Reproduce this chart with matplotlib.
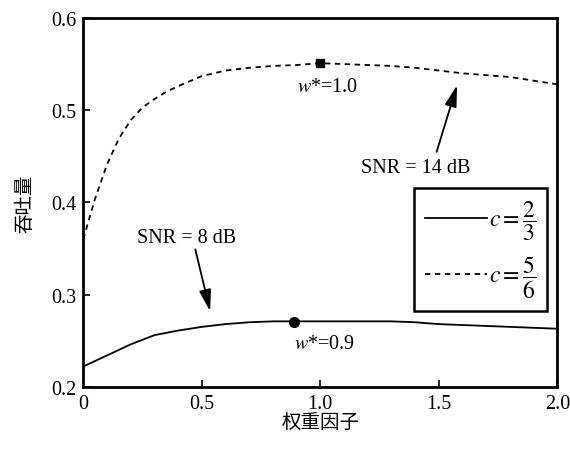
import matplotlib
matplotlib.use("Agg")
import matplotlib.pyplot as plt

plt.rcParams['font.family'] = ['Liberation Serif', 'Noto Sans CJK SC', 'DejaVu Sans']
plt.rcParams['mathtext.fontset'] = 'stix'
plt.rcParams['font.size'] = 14.5

# c = 5/6 (SNR = 14 dB)
w_hi = [0, 0.05, 0.1, 0.15, 0.2, 0.25, 0.3, 0.35, 0.4, 0.5, 0.6, 0.7, 0.8, 0.9, 1.0,
        1.1, 1.2, 1.3, 1.4, 1.5, 1.6, 1.7, 1.8, 1.9, 2.0]
thr_hi = [0.360, 0.404, 0.441, 0.469, 0.489, 0.503, 0.512, 0.520, 0.526, 0.537,
          0.543, 0.546, 0.548, 0.549, 0.551, 0.550, 0.549, 0.548, 0.546, 0.543,
          0.540, 0.538, 0.536, 0.532, 0.528]

# c = 2/3 (SNR = 8 dB)
w_lo = [0, 0.1, 0.2, 0.3, 0.4, 0.5, 0.6, 0.7, 0.8, 0.9, 1.0,
        1.1, 1.2, 1.3, 1.4, 1.5, 1.6, 1.7, 1.8, 1.9, 2.0]
thr_lo = [0.222, 0.234, 0.246, 0.256, 0.261, 0.265, 0.268, 0.270, 0.271, 0.271,
          0.271, 0.271, 0.271, 0.271, 0.270, 0.268, 0.267, 0.266, 0.265, 0.264, 0.263]

opt_hi = (1.0, 0.551)
opt_lo = (0.89, 0.270)

fig = plt.figure(figsize=(5.7, 4.52), dpi=100)
ax = fig.add_axes([0.146, 0.142, 0.832, 0.816])

l1, = ax.plot(w_lo, thr_lo, 'k-', lw=1.3, label=r'$c=\dfrac{2}{3}$')
l2, = ax.plot(w_hi, thr_hi, 'k--', lw=1.3, dashes=(3, 2.5), label=r'$c=\dfrac{5}{6}$')
ax.plot(*opt_hi, 'ks', ms=6)
ax.plot(*opt_lo, 'ko', ms=7)

ax.text(0.90, 0.526, r'$w$*=1.0', ha='left', va='center')
ax.text(0.89, 0.247, r'$w$*=0.9', ha='left', va='center')

ax.text(1.40, 0.438, 'SNR = 14 dB', ha='center', va='center')
ax.annotate('', xy=(1.58, 0.530), xytext=(1.487, 0.452),
            arrowprops=dict(arrowstyle='-|>,head_length=0.9,head_width=0.25',
                            color='k', lw=1.3))
ax.text(0.436, 0.362, 'SNR = 8 dB', ha='center', va='center')
ax.annotate('', xy=(0.538, 0.279), xytext=(0.47, 0.352),
            arrowprops=dict(arrowstyle='-|>,head_length=0.9,head_width=0.25',
                            color='k', lw=1.3))

ax.set_xlim(0, 2.0)
ax.set_ylim(0.2, 0.6)
ax.set_xticks([0, 0.5, 1.0, 1.5, 2.0])
ax.set_xticklabels(['0', '0.5', '1.0', '1.5', '2.0'])
ax.set_yticks([0.2, 0.3, 0.4, 0.5, 0.6])
ax.tick_params(direction='in', length=5, width=1.2, top=False, right=False, pad=5)
for s in ax.spines.values():
    s.set_linewidth(2)

ax.set_xlabel('权重因子', fontsize=14, labelpad=1)
ax.set_ylabel('吞吐量', fontsize=14, labelpad=12)

leg = ax.legend(handles=[l1, l2], loc='center right', bbox_to_anchor=(0.977, 0.372),
                borderaxespad=0, handlelength=2.65, handletextpad=0.05, borderpad=0.45,
                labelspacing=0.5, fancybox=False, fontsize=17)
leg.get_frame().set_edgecolor('k')
leg.get_frame().set_linewidth(1.8)
leg.get_frame().set_alpha(1)

fig.savefig('out.png', dpi=100)
